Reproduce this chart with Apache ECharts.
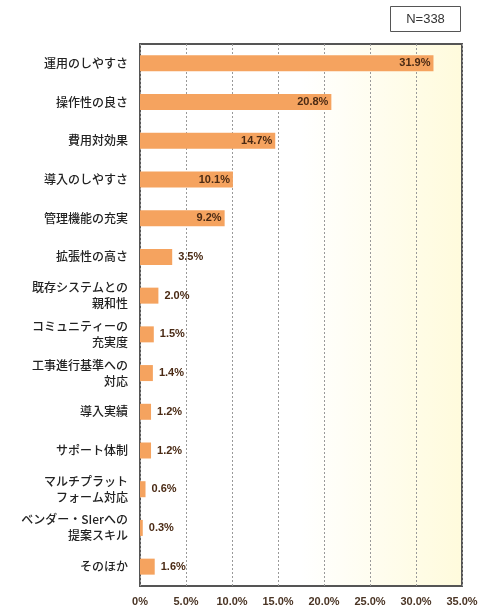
<!DOCTYPE html>
<html><head><meta charset="utf-8">
<script src="https://cdn.jsdelivr.net/npm/echarts@6/dist/echarts.min.js"></script>
<style>html,body{margin:0;background:#fff}#c{width:490px;height:610px}</style>
</head><body><div id="c"></div>
<script>
var categories = ['運用のしやすさ','操作性の良さ','費用対効果','導入のしやすさ','管理機能の充実','拡張性の高さ','既存システムとの\n親和性','コミュニティーの\n充実度','工事進行基準への\n対応','導入実績','サポート体制','マルチプラット\nフォーム対応','ベンダー・SIerへの\n提案スキル','そのほか'];
var values = [31.9, 20.8, 14.7, 10.1, 9.2, 3.5, 2.0, 1.5, 1.4, 1.2, 1.2, 0.6, 0.3, 1.6];
var ticks = [0, 5, 10, 15, 20, 25, 30, 35];

var chart = echarts.init(document.getElementById('c'));
var data = values.map(function(v) {
    return {
        value: v,
        label: { position: v > 5 ? 'insideRight' : 'right', distance: v > 5 ? 3 : 6 }
    };
});
chart.setOption({
    animation: false,
    grid: {
        left: 140, right: 28, top: 44, bottom: 24,
        show: true, borderColor: '#555', borderWidth: 2,
        backgroundColor: {
            type: 'linear', x: 0, y: 0, x2: 1, y2: 0,
            colorStops: [{ offset: 0, color: '#ffffff' }, { offset: 0.5, color: '#ffffff' }, { offset: 1, color: '#fffbdc' }]
        }
    },
    xAxis: {
        type: 'value', min: 0, max: 35, interval: 5,
        axisLine: { show: false }, axisTick: { show: false },
        axisLabel: {
            color: '#4a3424', fontWeight: 'bold', fontSize: 11, margin: 10,
            formatter: function(v) { return v === 0 ? '0%' : v.toFixed(1) + '%'; }
        },
        splitLine: { lineStyle: { color: '#999', type: [2, 2], width: 1 } }
    },
    yAxis: {
        type: 'category', data: categories, inverse: true,
        axisLine: { show: false }, axisTick: { show: false },
        axisLabel: { color: '#222', fontSize: 12, fontFamily: 'Noto Sans CJK JP', fontWeight: 500, lineHeight: 16, margin: 12 }
    },
    series: [{
        type: 'bar', data: data, barWidth: 16,
        itemStyle: { color: '#f5a35f' },
        label: {
            show: true, color: '#4a2a14', fontWeight: 'bold', fontSize: 11,
            formatter: function(p) { return p.value.toFixed(1) + '%'; }
        }
    }],
    graphic: [{
        type: 'group', right: 29, top: 6,
        children: [
            { type: 'rect', shape: { x: 0, y: 0, width: 70, height: 25 }, style: { fill: '#fff', stroke: '#555', lineWidth: 1 } },
            { type: 'text', x: 35, y: 12.5, style: { text: 'N=338', fill: '#333', fontSize: 13, align: 'center', verticalAlign: 'middle' } }
        ]
    }]
});
</script></body></html>
